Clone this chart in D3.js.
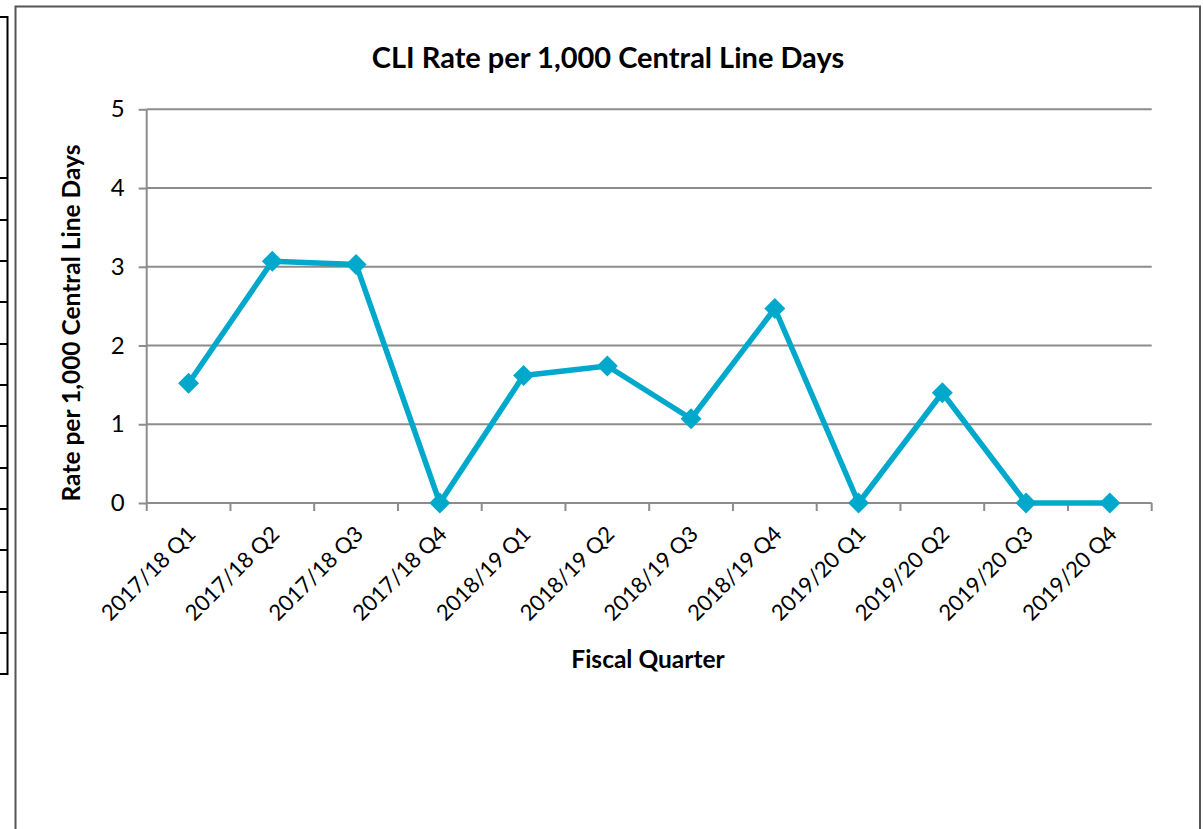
<!DOCTYPE html>
<html lang="en">
<head>
    <meta charset="utf-8">
    <title>CLI Rate</title>
    <script src="https://d3js.org/d3.v7.min.js" charset="utf-8"></script>
    <style>
        body { margin: 0; background: #fff; }
        svg { font-family: Lato, "Open Sans", sans-serif; }
        .axis path, .axis line { stroke: #8c8c8c; stroke-width: 2; fill: none; }
        .axis text { font-family: Lato, "Open Sans", sans-serif; font-size: 24px; fill: #000; }
    </style>
</head>
<body>
<script>

    var quarters = ["2017/18 Q1", "2017/18 Q2", "2017/18 Q3", "2017/18 Q4",
                    "2018/19 Q1", "2018/19 Q2", "2018/19 Q3", "2018/19 Q4",
                    "2019/20 Q1", "2019/20 Q2", "2019/20 Q3", "2019/20 Q4"]
    var rates = [1.52, 3.07, 3.03, 0, 1.62, 1.74, 1.07, 2.47, 0, 1.40, 0, 0]
    var yTicks = [0, 1, 2, 3, 4, 5]
    var tableRows = [17, 178, 220, 261, 302, 344, 385, 426, 468, 509, 550, 592, 633, 674]

    var w = 1203, h = 829
    var pLeft = 146.7, pRight = 1151.7, pTop = 109.3, pBottom = 503

    var svg = d3.select("body").append("svg").attr("width", w).attr("height", h)

    // bit of a table peeking in on the left
    svg.append("line").attr("x1", 7.5).attr("x2", 7.5).attr("y1", 16).attr("y2", 675)
        .attr("stroke", "#000").attr("stroke-width", 2)
    svg.selectAll(".trow").data(tableRows).enter().append("line")
        .attr("x1", 0).attr("x2", 8).attr("y1", function(d){return d}).attr("y2", function(d){return d})
        .attr("stroke", "#000").attr("stroke-width", 2)

    // chart frame
    svg.append("path").attr("d", "M15.5,829 V6.5 H1200 V829")
        .attr("fill", "none").attr("stroke", "#555").attr("stroke-width", 2)

    var x = d3.scaleBand().domain(quarters).range([pLeft, pRight])
    var y = d3.scaleLinear().domain([0, 5]).range([pBottom, pTop])

    // gridlines
    svg.selectAll(".grid").data(yTicks.slice(1)).enter().append("line")
        .attr("x1", pLeft).attr("x2", pRight)
        .attr("y1", function(d){return y(d)}).attr("y2", function(d){return y(d)})
        .attr("stroke", "#8c8c8c").attr("stroke-width", 2)

    var yAxis = d3.axisLeft(y).tickValues(yTicks).tickFormat(d3.format("d")).tickSize(8).tickPadding(14)
    svg.append("g").attr("class", "axis").attr("transform", "translate(" + pLeft + ",0)")
        .call(yAxis)
        .call(function(g){ g.select(".domain").attr("d", "M0," + pBottom + "V" + pTop) })

    var xAxis = d3.axisBottom(x).tickSize(0)
    var gx = svg.append("g").attr("class", "axis").attr("transform", "translate(0," + pBottom + ")")
        .call(xAxis)
    gx.select(".domain").attr("d", "M" + pLeft + ",0H" + pRight)
    // category boundary ticks
    gx.selectAll(".btick").data(quarters.concat(["end"])).enter().append("line")
        .attr("x1", function(d, i){return pLeft + i * x.bandwidth()})
        .attr("x2", function(d, i){return pLeft + i * x.bandwidth()})
        .attr("y1", 0).attr("y2", 8)
    gx.selectAll(".tick text")
        .attr("text-anchor", "end")
        .attr("transform", "translate(3,27) rotate(-45)")
        .attr("dy", "0.35em").attr("y", 0)
        .style("font-size", "22px")

    var line = d3.line()
        .x(function(d, i){return x(quarters[i]) + x.bandwidth() / 2})
        .y(function(d){return y(d)})

    svg.append("path").datum(rates).attr("d", line)
        .attr("fill", "none").attr("stroke", "#00a9cc").attr("stroke-width", 5.5)
        .attr("stroke-linejoin", "round")

    svg.selectAll(".pt").data(rates).enter().append("path")
        .attr("d", d3.symbol().type(d3.symbolDiamond2).size(280))
        .attr("transform", function(d, i){return "translate(" + (x(quarters[i]) + x.bandwidth() / 2) + "," + y(d) + ")"})
        .attr("fill", "#00a9cc")

    svg.append("text").attr("x", 608).attr("y", 68).attr("text-anchor", "middle")
        .style("font-size", "29px").style("font-weight", "bold")
        .text("CLI Rate per 1,000 Central Line Days")

    svg.append("text").attr("x", 648).attr("y", 668).attr("text-anchor", "middle")
        .style("font-size", "24.5px").style("font-weight", "bold")
        .text("Fiscal Quarter")

    svg.append("text").attr("transform", "translate(80,323) rotate(-90)").attr("text-anchor", "middle")
        .style("font-size", "24.5px").style("font-weight", "bold")
        .text("Rate per 1,000 Central Line Days")

</script>
</body>
</html>
